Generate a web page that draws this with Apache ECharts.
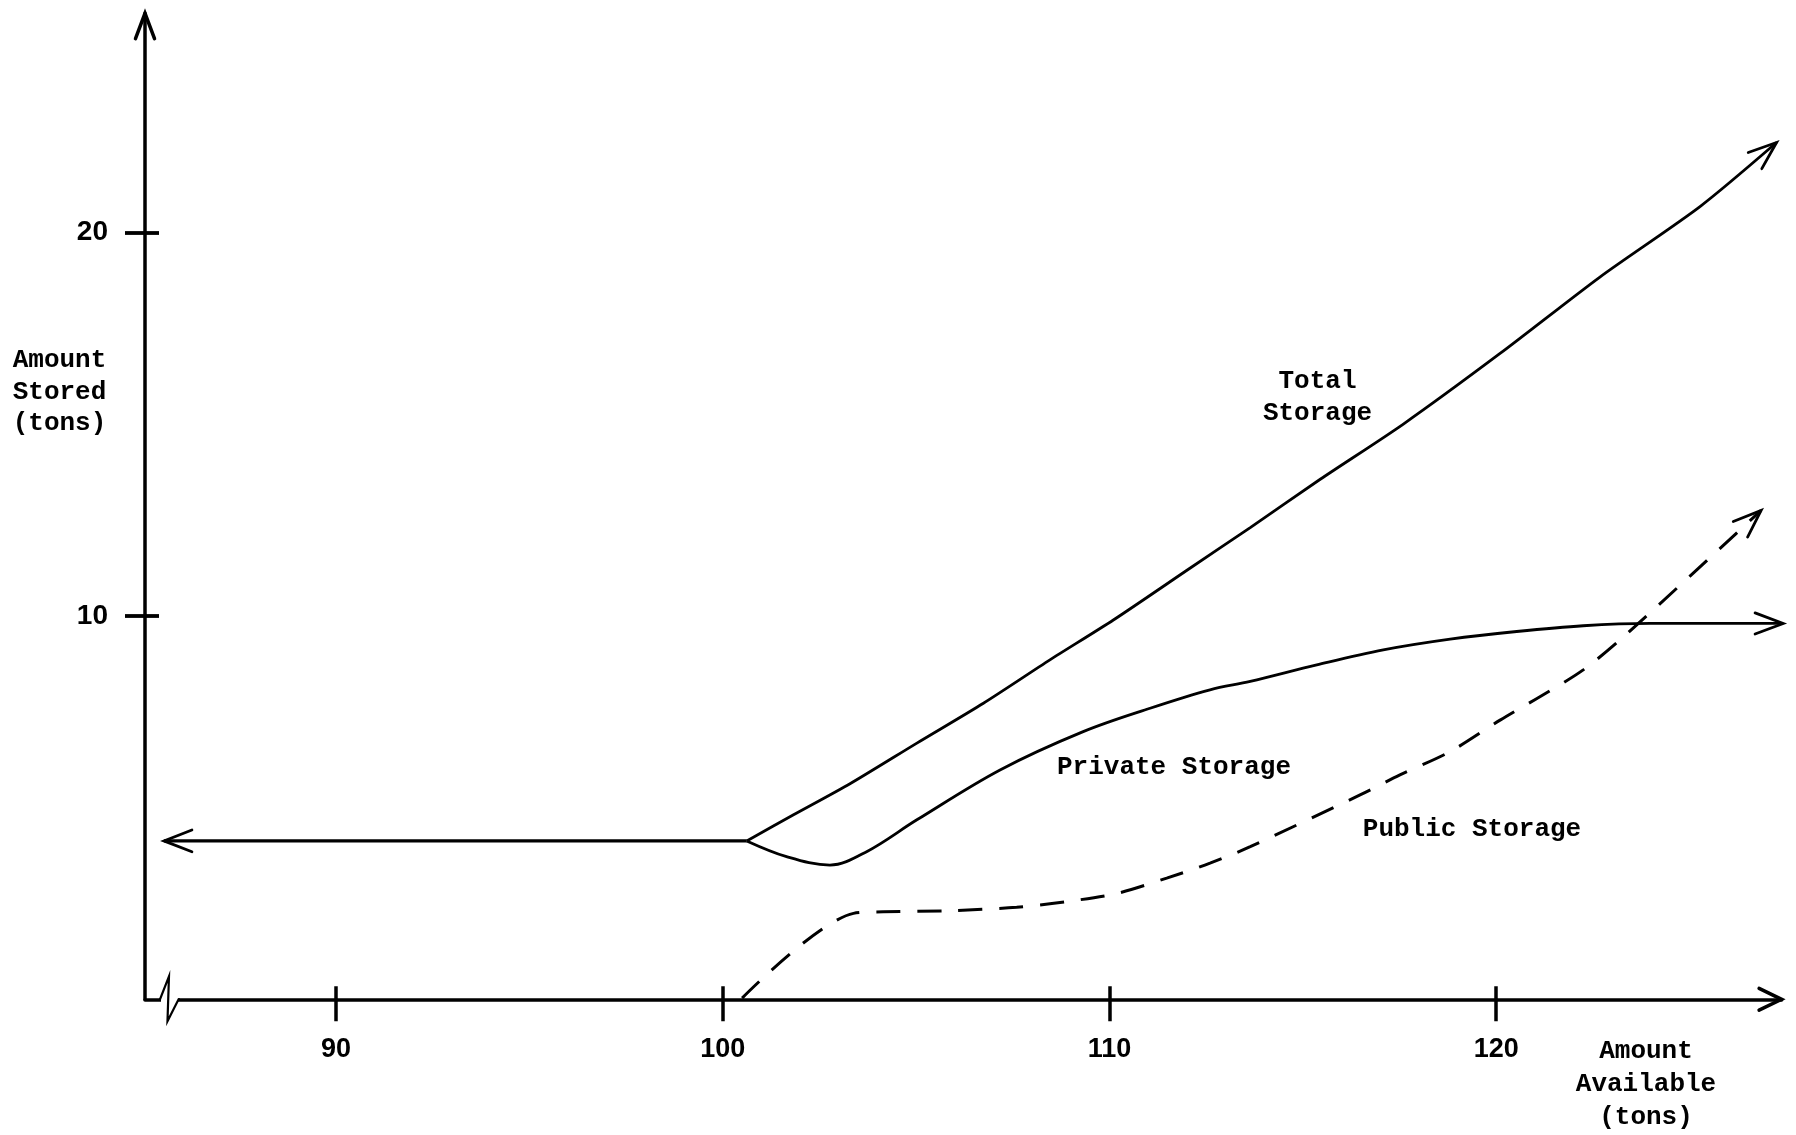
<!DOCTYPE html>
<html>
<head>
<meta charset="utf-8">
<script src="https://cdn.jsdelivr.net/npm/echarts@6/dist/echarts.min.js"></script>
<style>
html,body{margin:0;padding:0;background:#fff;}
#chart{width:1796px;height:1135px;}
</style>
</head>
<body>
<div id="chart"></div>
<script>
// ---- axis ranges & ticks ----
const xMin = 85.06, xMax = 127.38;
const yMin = 0, yMax = 25.71;
const xTicks = [90, 100, 110, 120];
const yTicks = [10, 20];

// ---- data: [amount available, amount stored] ----
const baseLine = [[85.55, 4.13], [100.62, 4.13]];
const totalStorage = [
  [100.62, 4.13], [101.83, 4.81], [103.29, 5.62], [105.02, 6.68], [106.74, 7.72],
  [108.46, 8.85], [110.10, 9.89], [112.08, 11.24], [113.64, 12.30],
  [115.45, 13.56], [117.60, 15.00], [120.10, 16.84], [122.69, 18.84], [125.27, 20.67],
  [127.25, 22.34]
];
const privateStorage = [
  [100.62, 4.13], [101.65, 3.72], [102.77, 3.50], [103.72, 3.85], [105.02, 4.68],
  [107.17, 5.98], [109.32, 6.98], [111.05, 7.59], [112.60, 8.07], [113.64, 8.29],
  [115.36, 8.72], [117.08, 9.11], [118.81, 9.39], [120.53, 9.59], [122.25, 9.74],
  [123.98, 9.80], [127.42, 9.80]
];
const publicStorage = [
  [100.50, 0.03], [103.38, 2.24], [104.15, 2.28], [105.88, 2.31], [107.60, 2.40],
  [108.90, 2.55], [110.19, 2.76], [111.48, 3.16], [112.60, 3.55], [113.64, 3.98],
  [116.48, 5.33], [117.51, 5.85], [118.81, 6.46], [120.10, 7.28], [121.13, 7.89],
  [122.25, 8.59], [123.29, 9.45], [126.85, 12.75]
];

const monoFont = '"Liberation Mono", "DejaVu Sans Mono", monospace';
const tickFont = '"Liberation Sans", Arial, sans-serif';

function last(a, k) { return a[a.length - 1 - k]; }
// arrowheads: [tipX, tipY, prevX, prevY, armLength, halfAngle, width]
const arrowData = [
  [baseLine[0][0], baseLine[0][1], baseLine[1][0], baseLine[1][1], 30, 0.37, 2.8],
  [last(totalStorage,0)[0], last(totalStorage,0)[1], last(totalStorage,1)[0], last(totalStorage,1)[1], 30, 0.36, 2.8],
  [last(privateStorage,0)[0], last(privateStorage,0)[1], last(privateStorage,1)[0], last(privateStorage,1)[1], 30, 0.36, 2.8],
  [last(publicStorage,0)[0], last(publicStorage,0)[1], last(publicStorage,1)[0], last(publicStorage,1)[1], 30, 0.36, 2.8],
  [xMax, yMin, xMax - 1, yMin, 25, 0.45, 3.5],
  [xMin, yMax, xMin, yMax - 1, 27, 0.36, 3.5]
];
const breakData = [[85.68, 0]];

const chart = echarts.init(document.getElementById('chart'), null, {renderer: 'canvas'});

function arrowRender(params, api) {
  const tip = api.coord([api.value(0), api.value(1)]);
  const prev = api.coord([api.value(2), api.value(3)]);
  const L = api.value(4), a = api.value(5), w = api.value(6);
  const ang = Math.atan2(tip[1] - prev[1], tip[0] - prev[0]);
  const p1 = [tip[0] - L * Math.cos(ang - a), tip[1] - L * Math.sin(ang - a)];
  const p2 = [tip[0] - L * Math.cos(ang + a), tip[1] - L * Math.sin(ang + a)];
  return {
    type: 'polyline',
    shape: {points: [p1, tip, p2]},
    style: {stroke: '#000', lineWidth: w, fill: null, lineJoin: 'miter', lineCap: 'round'}
  };
}

function breakRender(params, api) {
  const c = api.coord([api.value(0), api.value(1)]);
  return {
    type: 'group',
    children: [
      {type: 'line', shape: {x1: c[0] - 8, y1: c[1], x2: c[0] + 9, y2: c[1]},
       style: {stroke: '#fff', lineWidth: 6}},
      {type: 'polyline',
       shape: {points: [[c[0] - 10, c[1]], [c[0] - 9, c[1]], [c[0], c[1] - 23], [c[0] - 1.5, c[1] + 22], [c[0] + 9.6, c[1]], [c[0] + 11, c[1]]]},
       style: {stroke: '#000', lineWidth: 2.2, fill: null}}
    ]
  };
}

const lineStyleBase = {color: '#000', width: 2.8};

const option = {
  backgroundColor: '#fff',
  animation: false,
  grid: {left: 145, top: 13.3, right: 14.4, bottom: 135.7, containLabel: false},
  xAxis: [
    {
      type: 'value', min: xMin, max: xMax,
      axisLine: {show: true, lineStyle: {color: '#000', width: 3.5}},
      axisTick: {show: true, inside: false, length: 22, customValues: xTicks,
                 lineStyle: {color: '#000', width: 3.5}},
      axisLabel: {show: true, customValues: xTicks, margin: 37, color: '#000',
                  fontFamily: tickFont, fontWeight: 'bold', fontSize: 27, lineHeight: 27},
      splitLine: {show: false}
    },
    {
      type: 'value', min: xMin, max: xMax, position: 'bottom',
      axisLine: {show: false},
      axisTick: {show: true, inside: true, length: 13, customValues: xTicks,
                 lineStyle: {color: '#000', width: 3.5}},
      axisLabel: {show: false},
      splitLine: {show: false}
    }
  ],
  yAxis: [
    {
      type: 'value', min: yMin, max: yMax,
      axisLine: {show: true, lineStyle: {color: '#000', width: 3.5}},
      axisTick: {show: true, inside: false, length: 20, customValues: yTicks,
                 lineStyle: {color: '#000', width: 3.8}},
      axisLabel: {show: true, customValues: yTicks, margin: 37, color: '#000',
                  fontFamily: tickFont, fontWeight: 'bold', fontSize: 28},
      splitLine: {show: false}
    },
    {
      type: 'value', min: yMin, max: yMax, position: 'left',
      axisLine: {show: false},
      axisTick: {show: true, inside: true, length: 14, customValues: yTicks,
                 lineStyle: {color: '#000', width: 3.8}},
      axisLabel: {show: false},
      splitLine: {show: false}
    }
  ],
  series: [
    {name: 'Base', type: 'line', data: baseLine, showSymbol: false, symbol: 'none',
     lineStyle: {color: '#000', width: 3.2}},
    {name: 'Total Storage', type: 'line', data: totalStorage, smooth: 0.25, showSymbol: false, symbol: 'none',
     lineStyle: lineStyleBase},
    {name: 'Private Storage', type: 'line', data: privateStorage, smooth: 0.35, showSymbol: false, symbol: 'none',
     lineStyle: lineStyleBase},
    {name: 'Public Storage', type: 'line', data: publicStorage, smooth: 0.3,
     showSymbol: false, symbol: 'none',
     lineStyle: {color: '#000', width: 3, type: [24, 17]}},
    {name: 'arrows', type: 'custom', data: arrowData, renderItem: arrowRender, clip: false,
     encode: {x: [0, 2], y: [1, 3]}, silent: true, z: 5},
    {name: 'axisBreak', type: 'custom', data: breakData, renderItem: breakRender, clip: false,
     encode: {x: 0, y: 1}, silent: true, z: 6}
  ],
  graphic: [
    {type: 'text', x: 1317.5, y: 397.5, z: 10,
     style: {text: 'Total\nStorage', fill: '#000', font: 'bold 26px ' + monoFont,
             textAlign: 'center', textVerticalAlign: 'middle', align: 'center', verticalAlign: 'middle', lineHeight: 32}},
    {type: 'text', x: 1174, y: 767, z: 10,
     style: {text: 'Private Storage', fill: '#000', font: 'bold 26px ' + monoFont,
             textAlign: 'center', textVerticalAlign: 'middle', align: 'center', verticalAlign: 'middle'}},
    {type: 'text', x: 1472, y: 829, z: 10,
     style: {text: 'Public Storage', fill: '#000', font: 'bold 26px ' + monoFont,
             textAlign: 'center', textVerticalAlign: 'middle', align: 'center', verticalAlign: 'middle'}},
    {type: 'text', x: 59.5, y: 392, z: 10,
     style: {text: 'Amount\nStored\n(tons)', fill: '#000', font: 'bold 26px ' + monoFont,
             textAlign: 'center', textVerticalAlign: 'middle', align: 'center', verticalAlign: 'middle', lineHeight: 31.5}},
    {type: 'text', x: 1646, y: 1084, z: 10,
     style: {text: 'Amount\nAvailable\n(tons)', fill: '#000', font: 'bold 26px ' + monoFont,
             textAlign: 'center', textVerticalAlign: 'middle', align: 'center', verticalAlign: 'middle', lineHeight: 33}}
  ]
};
chart.setOption(option);
</script>
</body>
</html>
